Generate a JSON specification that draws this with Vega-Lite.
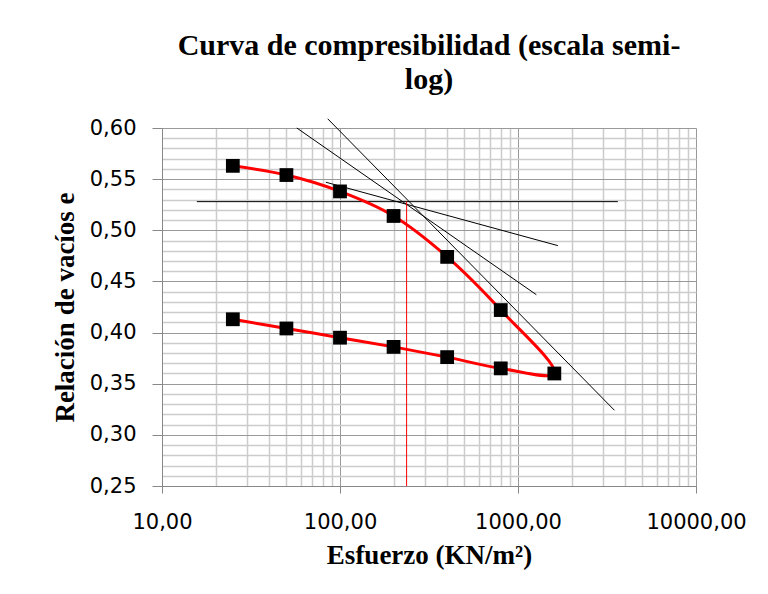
{
  "$schema": "https://vega.github.io/schema/vega-lite/v6.json",
  "autosize": "none",
  "width": 534,
  "height": 358,
  "padding": {"left": 162, "top": 128, "right": 72, "bottom": 108},
  "background": "white",
  "config": {"view": {"stroke": null}},
  "title": {
    "text": ["Curva  de  compresibilidad   (escala semi-", "log)"],
    "font": "Liberation Serif",
    "fontSize": 30,
    "fontWeight": "bold",
    "color": "black",
    "lineHeight": 34,
    "anchor": "middle",
    "offset": 22
  },
  "datasets": {
    "puntos": [
      {"orden": 1, "esfuerzo": 25, "e": 0.563},
      {"orden": 2, "esfuerzo": 50, "e": 0.554},
      {"orden": 3, "esfuerzo": 100, "e": 0.538},
      {"orden": 4, "esfuerzo": 200, "e": 0.514},
      {"orden": 5, "esfuerzo": 400, "e": 0.474},
      {"orden": 6, "esfuerzo": 800, "e": 0.422},
      {"orden": 7, "esfuerzo": 1600, "e": 0.360},
      {"orden": 8, "esfuerzo": 800, "e": 0.365},
      {"orden": 9, "esfuerzo": 400, "e": 0.376},
      {"orden": 10, "esfuerzo": 200, "e": 0.386},
      {"orden": 11, "esfuerzo": 100, "e": 0.395},
      {"orden": 12, "esfuerzo": 50, "e": 0.404},
      {"orden": 13, "esfuerzo": 25, "e": 0.413}
    ],
    "lineas": [
      {"linea": "horizontal", "color": "negro", "esfuerzo": 15.7, "e": 0.528},
      {"linea": "horizontal", "color": "negro", "esfuerzo": 3640, "e": 0.528},
      {"linea": "tangente", "color": "negro", "esfuerzo": 83.2, "e": 0.547},
      {"linea": "tangente", "color": "negro", "esfuerzo": 1675, "e": 0.485},
      {"linea": "bisectriz", "color": "negro", "esfuerzo": 57.2, "e": 0.600},
      {"linea": "bisectriz", "color": "negro", "esfuerzo": 1268, "e": 0.437},
      {"linea": "virgen", "color": "negro", "esfuerzo": 85.3, "e": 0.609},
      {"linea": "virgen", "color": "negro", "esfuerzo": 3483, "e": 0.324},
      {"linea": "preconsolidacion", "color": "rojo", "esfuerzo": 236.7, "e": 0.528},
      {"linea": "preconsolidacion", "color": "rojo", "esfuerzo": 236.7, "e": 0.25}
    ]
  },
  "encoding": {
    "x": {
      "field": "esfuerzo",
      "type": "quantitative",
      "scale": {"type": "log", "domain": [10, 10000], "nice": false},
      "axis": {
        "title": "Esfuerzo (KN/m²)",
        "titleFont": "Liberation Serif",
        "titleFontSize": 27,
        "titleFontWeight": "bold",
        "titleColor": "black",
        "titlePadding": 10,
        "values": [10, 20, 30, 40, 50, 60, 70, 80, 90, 100, 200, 300, 400, 500, 600, 700, 800, 900, 1000, 2000, 3000, 4000, 5000, 6000, 7000, 8000, 9000, 10000],
        "labelExpr": "abs(log(datum.value)/LN10 - round(log(datum.value)/LN10)) < 0.000001 ? replace(format(datum.value, '.2f'), '.', ',') : ''",
        "labelFont": "DejaVu Sans",
        "labelFontSize": 21,
        "labelColor": "black",
        "labelPadding": 18,
        "labelOverlap": false,
        "labelFlush": false,
        "tickSize": 7,
        "tickColor": {"condition": {"test": "abs(log(datum.value)/LN10 - round(log(datum.value)/LN10)) < 0.000001", "value": "#888888"}, "value": "transparent"},
        "domainColor": "#888888",
        "grid": true,
        "gridColor": {"condition": {"test": "abs(log(datum.value)/LN10 - round(log(datum.value)/LN10)) < 0.000001", "value": "#999999"}, "value": "#cccccc"},
        "gridWidth": {"condition": {"test": "abs(log(datum.value)/LN10 - round(log(datum.value)/LN10)) < 0.000001", "value": 1}, "value": 1.5}
      }
    },
    "y": {
      "field": "e",
      "type": "quantitative",
      "scale": {"domain": [0.25, 0.6], "nice": false, "zero": false},
      "axis": {
        "title": "Relación de vacíos e",
        "titleFont": "Liberation Serif",
        "titleFontSize": 27,
        "titleFontWeight": "bold",
        "titleColor": "black",
        "titlePadding": 10,
        "values": [0.25, 0.26, 0.27, 0.28, 0.29, 0.30, 0.31, 0.32, 0.33, 0.34, 0.35, 0.36, 0.37, 0.38, 0.39, 0.40, 0.41, 0.42, 0.43, 0.44, 0.45, 0.46, 0.47, 0.48, 0.49, 0.50, 0.51, 0.52, 0.53, 0.54, 0.55, 0.56, 0.57, 0.58, 0.59, 0.60],
        "labelExpr": "abs(datum.value*20 - round(datum.value*20)) < 0.000001 ? replace(format(datum.value, '.2f'), '.', ',') : ''",
        "labelFont": "DejaVu Sans",
        "labelFontSize": 21,
        "labelColor": "black",
        "labelPadding": 16,
        "labelOverlap": false,
        "tickSize": 10,
        "tickColor": {"condition": {"test": "abs(datum.value*20 - round(datum.value*20)) < 0.000001", "value": "#888888"}, "value": "transparent"},
        "domainColor": "#888888",
        "grid": true,
        "gridColor": {"condition": {"test": "abs(datum.value*20 - round(datum.value*20)) < 0.000001", "value": "#999999"}, "value": "#cccccc"},
        "gridWidth": {"condition": {"test": "abs(datum.value*20 - round(datum.value*20)) < 0.000001", "value": 1}, "value": 1.5}
      }
    }
  },
  "layer": [
    {
      "data": {"name": "lineas"},
      "mark": {"type": "line", "strokeWidth": 1, "clip": false},
      "encoding": {
        "detail": {"field": "linea"},
        "color": {"field": "color", "type": "nominal", "scale": {"domain": ["negro", "rojo"], "range": ["#000000", "#ff0000"]}, "legend": null}
      }
    },
    {
      "data": {"name": "puntos"},
      "mark": {"type": "line", "color": "#ff0000", "strokeWidth": 3, "interpolate": "catmull-rom"},
      "encoding": {"order": {"field": "orden", "type": "quantitative"}}
    },
    {
      "data": {"name": "puntos"},
      "mark": {"type": "point", "shape": "square", "filled": true, "color": "#000000", "size": 190, "opacity": 1}
    }
  ]
}
